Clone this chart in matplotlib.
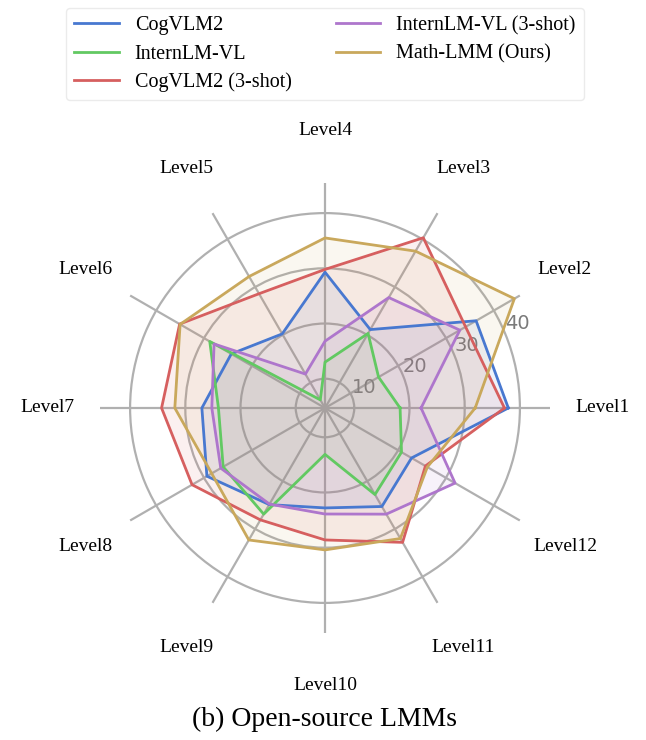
import numpy as np
import matplotlib
matplotlib.use("Agg")
import matplotlib.pyplot as plt

plt.rcParams['font.family'] = ['Liberation Serif', 'DejaVu Serif']

levels = ["Level1", "Level2", "Level3", "Level4", "Level5", "Level6",
          "Level7", "Level8", "Level9", "Level10", "Level11", "Level12"]

series_names = ["CogVLM2", "InternLM-VL", "CogVLM2 (3-shot)",
                "InternLM-VL (3-shot)", "Math-LMM (Ours)"]

cogvlm2 = [37.9, 36.3, 21.1, 29.3, 20.2, 24.3, 27.0, 29.4, 24.9, 22.8, 25.3, 22.8]
internlm_vl = [18.3, 15.9, 20.3, 13.0, 6.4, 28.8, 24.0, 26.0, 26.9, 13.1, 22.8, 20.7]
cogvlm2_3shot = [37.2, 34.1, 40.3, 29.8, 28.6, 35.1, 34.3, 32.5, 28.1, 28.6, 32.8, 25.7]
internlm_vl_3shot = [22.1, 32.9, 27.8, 16.8, 11.8, 27.9, 25.2, 26.5, 24.8, 23.9, 26.9, 31.9]
math_lmm = [31.9, 44.3, 37.5, 35.5, 32.2, 35.0, 31.9, 28.4, 32.3, 30.4, 32.0, 26.1]

r_ticks = [10, 20, 30, 40]
r_tick_labels = ["10", "20", "30", "40"]

colors = ["#4878d0", "#62c962", "#d65f5f", "#ae76cc", "#c9a85c"]
all_series = [cogvlm2, internlm_vl, cogvlm2_3shot, internlm_vl_3shot, math_lmm]

fig = plt.figure(figsize=(6.46, 7.40), dpi=100)
ax = fig.add_axes([0.1548, 0.1446, 0.6966, 0.6081], projection='polar')

n = len(levels)
angles = np.linspace(0, 2 * np.pi, n, endpoint=False)
angles_closed = np.concatenate([angles, angles[:1]])

for name, vals, c in zip(series_names, all_series, colors):
    v = np.concatenate([vals, vals[:1]])
    ax.plot(angles_closed, v, color=c, linewidth=2, label=name, zorder=3)
    ax.fill(angles_closed, v, color=c, alpha=0.09, zorder=2)

ax.set_ylim(4.7, 45.45)
ax.set_xticks(angles)
ax.set_xticklabels(levels, fontsize=14)
ax.tick_params(axis='x', pad=27)
ax.set_yticks(r_ticks)
ax.set_yticklabels(r_tick_labels, fontsize=14, color='#7a7a7a', family='DejaVu Sans')
ax.set_rlabel_position(22.5)
ax.grid(True, color='#b0b0b0', linewidth=1.6)
ax.spines['polar'].set_visible(False)
ax.set_facecolor('white')

handles, labels = ax.get_legend_handles_labels()
fig.legend(handles, labels, loc='upper center', bbox_to_anchor=(0.503, 0.989),
           borderaxespad=0.0, ncol=2, fontsize=14.5, frameon=True,
           edgecolor='#e6e6e6', columnspacing=2.2, handlelength=2.2,
           labelspacing=0.45)

fig.text(0.503, 1 - 719 / 740, "(b) Open-source LMMs", ha='center', va='center', fontsize=20)

fig.savefig("out.png", dpi=100)
